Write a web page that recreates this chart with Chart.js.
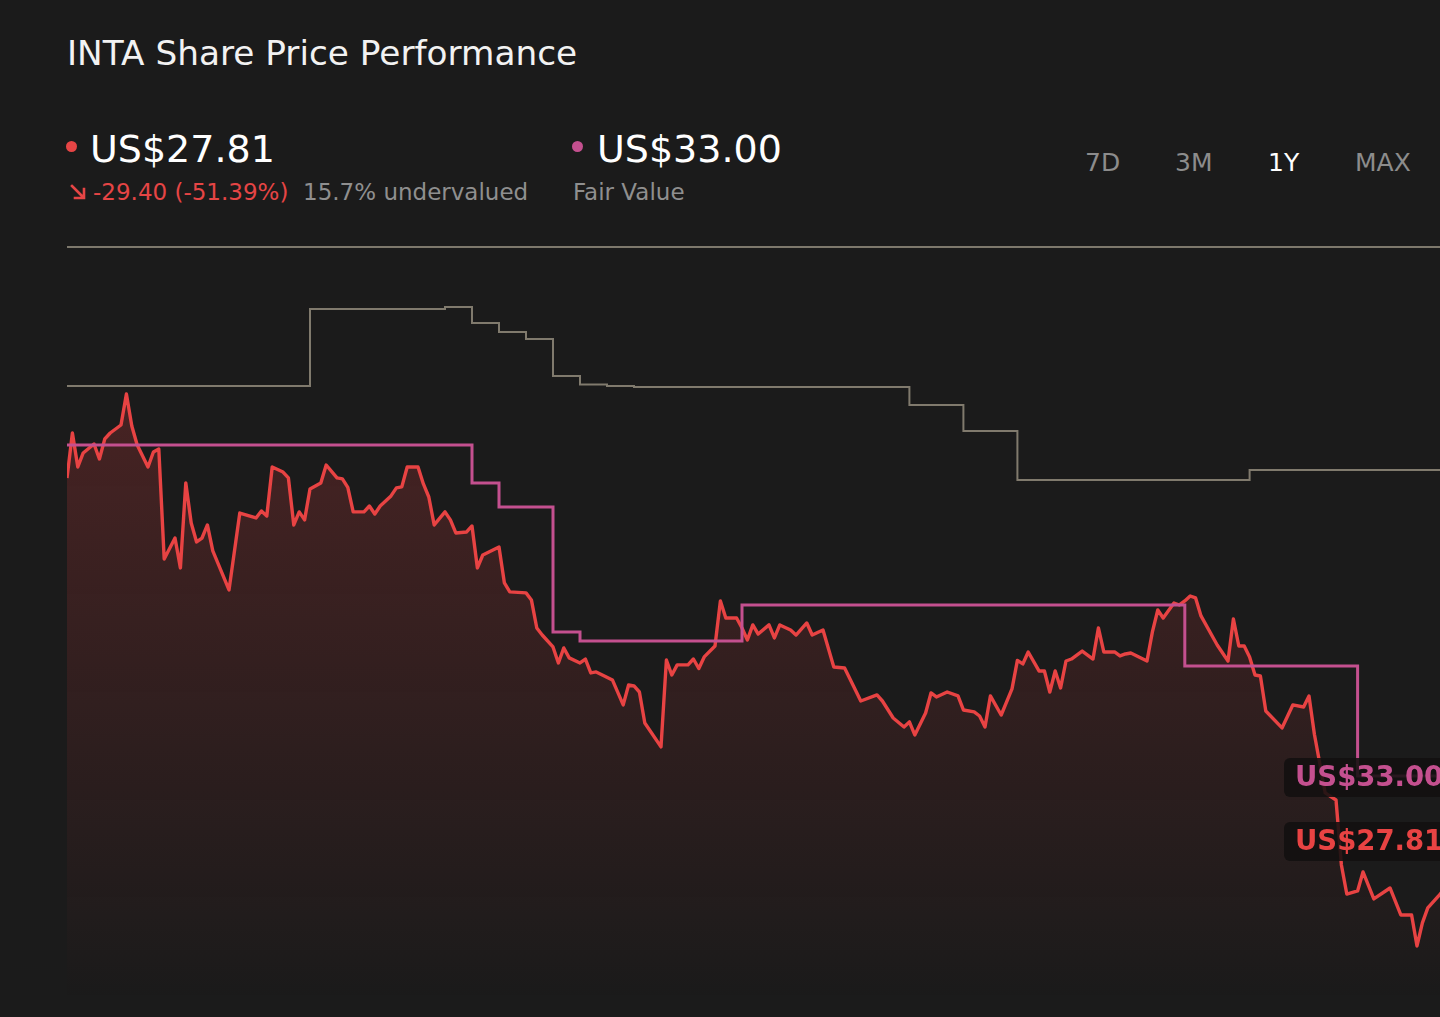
<!DOCTYPE html>
<html>
<head>
<meta charset="utf-8">
<script src="https://cdn.jsdelivr.net/npm/chart.js@4"></script>
<style>
  html, body { margin: 0; padding: 0; background: #1b1b1b; overflow: hidden; }
  body { width: 1440px; height: 1017px; position: relative; font-family: "DejaVu Sans", sans-serif; }
  .t { position: absolute; white-space: nowrap; line-height: normal; }
  .dot { position: absolute; width: 11px; height: 11px; border-radius: 50%; }
  #arrow { position: absolute; left: 69px; top: 183px; }
  #topline { position: absolute; left: 67px; top: 246px; width: 1373px; height: 2px; background: #7d786c; }
  #wrap { position: absolute; left: 67px; top: 247px; width: 1404px; height: 753px; }
</style>
</head>
<body>
<div class="t" style="left:67px;top:33px;font-size:34.3px;color:#f2f2f2;">INTA Share Price Performance</div>

<div class="dot" style="left:66px;top:141px;background:#e64545;"></div>
<div class="t" style="left:90px;top:127px;font-size:38px;color:#ffffff;">US$27.81</div>
<svg id="arrow" width="18" height="18" viewBox="0 0 18 18">
  <path d="M3 3 L14 14 M15 6 L15 15 L6 15" stroke="#e64545" stroke-width="2.6" fill="none" stroke-linecap="square"/>
</svg>
<div class="t" style="left:93px;top:179px;font-size:23px;color:#e64545;">-29.40 (-51.39%)</div>
<div class="t" style="left:303px;top:179px;font-size:23px;color:#8f8f8f;">15.7% undervalued</div>

<div class="dot" style="left:572px;top:141px;background:#c4508f;"></div>
<div class="t" style="left:597px;top:127px;font-size:38px;color:#ffffff;">US$33.00</div>
<div class="t" style="left:573px;top:179px;font-size:23px;color:#8f8f8f;">Fair Value</div>

<div class="t" style="left:1085px;top:148px;font-size:25px;color:#8c8c8c;">7D</div>
<div class="t" style="left:1175px;top:148px;font-size:25px;color:#8c8c8c;">3M</div>
<div class="t" style="left:1268px;top:148px;font-size:25px;color:#ffffff;">1Y</div>
<div class="t" style="left:1355px;top:148px;font-size:25px;color:#8c8c8c;">MAX</div>

<div id="topline"></div>
<div id="wrap"><canvas id="priceChart" width="1404" height="753"></canvas></div>

<script>
// share price, by trading day over the last year
const priceDays = [
  0, 1, 2, 3, 5, 6, 7, 8, 10, 11, 12, 13, 15, 16, 17, 18, 20, 21, 22, 23,
  24, 25, 26, 27, 30, 32, 35, 36, 37, 38, 40, 41, 42, 43, 44, 45, 47, 48, 50, 51,
  52, 53, 55, 56, 57, 58, 60, 61, 62, 63, 65, 66, 67, 68, 70, 71, 72, 74, 75, 76,
  77, 80, 81, 82, 85, 86, 87, 88, 90, 91, 92, 93, 95, 96, 97, 98, 101, 103, 104, 105,
  106, 107, 110, 111, 112, 113, 115, 116, 117, 118, 120, 121, 122, 124, 125, 126, 127, 128, 130, 131,
  132, 134, 135, 137, 138, 140, 142, 144, 146, 147, 150, 151, 153, 155, 156, 157, 159, 160, 161, 163,
  165, 166, 168, 169, 170, 171, 173, 175, 176, 177, 178, 180, 181, 182, 183, 184, 185, 186, 188, 190,
  191, 192, 194, 195, 196, 197, 200, 201, 202, 203, 205, 206, 207, 208, 209, 210, 213, 215, 216, 217,
  218, 219, 220, 221, 222, 225, 227, 229, 230, 231, 233, 235, 236, 237, 239, 240, 242, 245, 247, 249,
  250, 251, 252, 254, 257, 260
];
const priceValues = [
  57.22, 60.87, 58.11, 59.25, 59.98, 58.76, 60.39, 60.87, 61.52, 64.04, 61.44, 59.90, 58.11, 59.33, 59.57, 50.64, 52.34, 49.91, 56.81, 53.56,
  52.02, 52.34, 53.40, 51.30, 48.12, 54.37, 53.97, 54.54, 54.13, 58.11, 57.70, 57.22, 53.40, 54.46, 53.81, 56.32, 56.81, 58.27, 57.22, 57.14,
  56.45, 54.46, 54.46, 54.94, 54.29, 54.94, 55.76, 56.41, 56.49, 58.11, 58.11, 56.73, 55.67, 53.40, 54.46, 53.81, 52.75, 52.83, 53.32, 49.91,
  50.96, 51.61, 48.69, 47.96, 47.88, 47.31, 45.03, 44.46, 43.49, 42.19, 43.41, 42.60, 42.19, 42.51, 41.38, 41.46, 40.81, 38.78, 40.40, 40.32,
  39.83, 37.31, 35.37, 42.43, 41.21, 42.03, 42.03, 42.51, 41.74, 42.68, 43.57, 47.23, 45.84, 45.84, 45.03, 44.06, 45.28, 44.54, 45.28, 44.22,
  45.28, 44.87, 44.46, 45.44, 44.46, 44.87, 41.86, 41.78, 39.99, 39.10, 39.59, 39.10, 37.72, 36.99, 37.40, 36.34, 38.13, 39.75, 39.43, 39.83,
  39.51, 38.37, 38.21, 37.88, 36.99, 39.51, 37.96, 40.08, 42.40, 42.11, 43.08, 41.54, 41.54, 39.83, 41.54, 40.16, 42.35, 42.51, 43.16, 42.51,
  45.03, 43.08, 43.08, 42.76, 42.92, 43.00, 42.35, 44.71, 46.49, 45.84, 47.06, 46.90, 47.23, 47.63, 47.47, 46.01, 43.65, 42.35, 45.76, 43.57,
  43.57, 42.68, 41.21, 41.13, 38.29, 36.91, 38.78, 38.61, 39.51, 36.40, 31.63, 31.06, 25.78, 23.42, 23.67, 25.21, 23.02, 23.91, 21.72, 21.72,
  19.20, 21.07, 22.29, 23.26, 24.90, 27.81
];

// fair value estimate, changes on these days
const fairDays = [0, 75, 80, 90, 95, 125, 207, 239, 260];
const fairValues = [59.90, 56.81, 54.86, 44.71, 43.98, 46.90, 41.94, 33.00, 33.00];

// analyst price target
const targetDays = [0, 45, 70, 75, 80, 85, 90, 95, 100, 105, 156, 166, 176, 219, 260];
const targetValues = [64.69, 70.95, 71.11, 69.81, 69.08, 68.51, 65.50, 64.81, 64.69, 64.61, 63.15, 61.03, 57.05, 57.87, 57.87];

const RED = '#e84343';
const PINK = '#c4508f';
const GREY = '#807a6d';

function toPoints(xs, ys) {
  return xs.map((x, i) => ({ x: x, y: ys[i] }));
}

// price tags on the right edge
const endLabels = {
  id: 'endLabels',
  afterDatasetsDraw(chart) {
    const { ctx, chartArea, scales } = chart;
    const tags = [
      { value: fairValues[fairValues.length - 1], color: PINK },
      { value: priceValues[priceValues.length - 1], color: RED },
    ];
    ctx.save();
    tags.forEach(tag => {
      const y = scales.y.getPixelForValue(tag.value);
      const left = chartArea.right - 187;
      ctx.fillStyle = 'rgba(18,16,16,0.88)';
      ctx.beginPath();
      ctx.roundRect(left, y - 18, 220, 39, 6);
      ctx.fill();
      ctx.fillStyle = tag.color;
      ctx.font = 'bold 27.5px "DejaVu Sans"';
      ctx.textBaseline = 'middle';
      ctx.fillText('US$' + tag.value.toFixed(2), left + 11, y + 3);
    });
    ctx.restore();
  }
};

const config = {
  type: 'line',
  data: {
    datasets: [
      {
        label: 'Fair Value',
        data: toPoints(fairDays, fairValues),
        borderColor: PINK,
        borderWidth: 3,
        stepped: true,
        pointRadius: 0,
        fill: false,
        order: 0,
      },
      {
        label: 'Share Price',
        data: toPoints(priceDays, priceValues),
        borderColor: RED,
        borderWidth: 3.4,
        borderJoinStyle: 'round',
        pointRadius: 0,
        tension: 0,
        fill: 'start',
        backgroundColor: function(context) {
          const chart = context.chart;
          const { ctx, chartArea, scales } = chart;
          if (!chartArea) return null;
          const top = scales.y.getPixelForValue(Math.max(...priceValues));
          const g = ctx.createLinearGradient(0, top, 0, chartArea.bottom);
          g.addColorStop(0, 'rgba(232,65,66,0.22)');
          g.addColorStop(1, 'rgba(232,65,66,0)');
          return g;
        },
        order: 1,
      },
      {
        label: 'Price Target',
        data: toPoints(targetDays, targetValues),
        borderColor: GREY,
        borderWidth: 2,
        stepped: true,
        pointRadius: 0,
        fill: false,
        order: 2,
      },
    ]
  },
  options: {
    responsive: false,
    animation: false,
    layout: { padding: 0 },
    plugins: {
      legend: { display: false },
      tooltip: { enabled: false },
    },
    scales: {
      x: { type: 'linear', min: 0, max: 260, display: false },
      y: { min: 14.81, max: 75.98, display: false },
    }
  },
  plugins: [endLabels]
};

const myChart = new Chart(document.getElementById('priceChart'), config);
</script>
</body>
</html>
